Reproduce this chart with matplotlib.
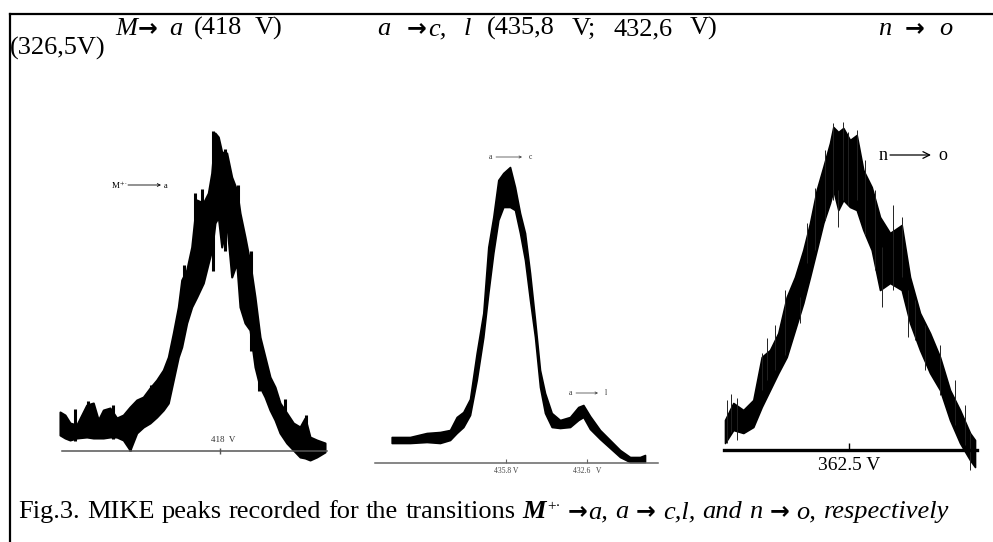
import matplotlib
matplotlib.use("Agg")
import matplotlib.pyplot as plt
from matplotlib.lines import Line2D

W, H = 993, 542
SERIF = ['Liberation Serif', 'DejaVu Serif']
plt.rcParams['font.family'] = SERIF
plt.rcParams['mathtext.fontset'] = 'stix'

# Panel 1: M+. -> a (trace envelope, height above baseline)
p1_x = [5, 10, 15, 21.7, 31.7, 38.3, 43.3, 48.3, 55, 61.7, 68.3, 75, 81.7, 88.3, 95,
        101.7, 108.3, 113.3, 118.3, 123.3, 126.7, 131.7, 136.7, 141.7, 148.3, 153.3,
        156.7, 160, 163.3, 166.7, 171.7, 176.7, 181.7, 185, 190, 195, 200, 205, 210,
        215, 220, 225, 231.7, 238.3, 245, 250, 255, 261.7, 270]
p1_upper = [39, 36, 28, 26, 46, 48, 31, 41, 43, 33, 36, 44, 51, 54, 63, 71, 81, 94, 118,
            144, 171, 181, 204, 251, 248, 258, 278, 318, 314, 299, 298, 274, 261, 238,
            214, 188, 154, 114, 94, 74, 64, 48, 38, 28, 24, 33, 14, 11, 8]
p1_lower = [16, 13, 11, 13, 14, 13, 13, 13, 14, 14, 11, 1, 18, 24, 28, 34, 41, 48, 71,
            94, 104, 128, 144, 154, 168, 188, 201, 228, 234, 204, 228, 174, 188, 144,
            128, 121, 84, 64, 54, 41, 31, 18, 8, 1, -6, -7, -9, -6, -1]
p1_spike_x = [20, 33, 58, 75, 96, 129, 140, 147, 158, 170, 183, 196, 204, 230, 251]
p1_spike_lo = [10, 20, 12, 0, 30, 160, 200, 210, 180, 200, 200, 100, 60, 20, 8]
p1_spike_hi = [42, 50, 46, 40, 66, 186, 258, 262, 320, 302, 266, 200, 118, 52, 36]
p1_span = [7, 272]
p1_ticks = [165]
p1_tick_labels = ['418  V']

# Panel 2: a -> c, l
p2_x = [21.7, 40, 56.7, 70, 80, 86.7, 93.3, 100, 106.7, 113.3, 118.3, 123.3, 128.3,
        133.3, 140, 145, 150, 155, 160, 165, 170, 175, 181.7, 190, 200, 208.3, 213.3,
        220, 230, 240, 250, 260, 270, 275]
p2_upper = [26, 26, 30, 31, 33, 46, 51, 64, 110, 150, 216, 246, 283, 290, 296, 276, 250,
            230, 190, 143, 93, 70, 50, 43, 46, 56, 58, 47, 33, 23, 13, 6, 6, 8]
p2_lower = [20, 20, 21, 20, 23, 30, 36, 48, 83, 126, 170, 210, 243, 256, 256, 253, 230,
            203, 163, 126, 76, 50, 36, 35, 36, 43, 46, 34, 24, 15, 6, 1, 1, 1]
p2_span = [5, 288]
p2_ticks = [136, 217]
p2_tick_labels = ['435.8 V', '432.6   V']

# Panel 3: n -> o
p3_x = [10, 18.3, 28.3, 38.3, 46.7, 55, 63.3, 71.7, 80, 88.3, 95, 101.7, 108.3, 115,
        118.3, 123.3, 128.3, 135, 141.7, 148.3, 156.7, 165, 175, 186.7, 195, 205, 215,
        225, 235, 245, 255, 260]
p3_upper = [30, 47, 40, 50, 93, 100, 117, 153, 173, 200, 227, 260, 283, 307, 323, 318,
            322, 310, 315, 280, 263, 233, 217, 225, 173, 137, 117, 93, 60, 40, 17, 10]
p3_lower = [7, 20, 17, 23, 43, 60, 77, 93, 120, 147, 173, 200, 227, 247, 260, 240, 250,
            243, 240, 220, 200, 160, 167, 160, 127, 100, 77, 60, 30, 7, -10, -17]
p3_spike_x = [11.7, 16, 22, 46.7, 52, 60, 70, 85, 91.7, 100, 110, 117.7, 123.3, 128.3,
              133, 141.7, 150, 160, 166.7, 178, 186.7, 193.3, 200, 210, 225, 240, 250, 255]
p3_spike_lo = [7, 18, 10, 60, 70, 80, 95, 127, 187, 200, 230, 250, 223, 250, 245, 250,
               215, 180, 143, 160, 173, 113, 110, 80, 55, 25, 5, -20]
p3_spike_hi = [50, 56, 52, 97, 112, 125, 160, 153, 227, 262, 300, 327, 260, 328, 318, 320,
               290, 260, 203, 245, 233, 160, 150, 125, 105, 70, 45, 17]
p3_span = [9, 262]
p3_ticks = [134]
p3_tick_labels = ['362.5 V']


def fx(x):
    return x / W


def fy(y):
    return 1 - y / H


def panel(fig, x0, y0, x1, y1, xlim, ylim):
    ax = fig.add_axes([fx(x0), fy(y1), (x1 - x0) / W, (y1 - y0) / H])
    ax.set_xlim(*xlim)
    ax.set_ylim(*ylim)
    ax.patch.set_alpha(0)
    for s in ['top', 'left', 'right']:
        ax.spines[s].set_visible(False)
    ax.set_yticks([])
    ax.spines['bottom'].set_position(('data', 0))
    return ax


def justify(fig, x0, x1, y, words):
    # place words so the line fills x0..x1 (word-processor justified text)
    r = fig.canvas.get_renderer()
    items = []
    for word in words:
        arts, w = [], 0
        for s, kw in word:
            kw = dict(kw)
            rise = kw.pop('rise', 0)
            t = fig.text(0, fy(y - rise), s, va='baseline', ha='left', **kw)
            arts.append((t, w))
            w += t.get_window_extent(r).width + 1
        items.append((arts, w))
    total = sum(w for _, w in items)
    gap = (x1 - x0 - total) / max(len(items) - 1, 1)
    x = x0
    for arts, w in items:
        for t, off in arts:
            t.set_x(fx(x + off))
        x += w + gap


fig = plt.figure(figsize=(W / 100, H / 100), dpi=100)

# frame (top and left rule)
fig.add_artist(Line2D([fx(9.5), fx(9.5)], [0, fy(14)], color='black', lw=1.6))
fig.add_artist(Line2D([fx(9.5), 1], [fy(14), fy(14)], color='black', lw=1.6))

# panel 1
ax1 = panel(fig, 55, 100, 330, 470, (0, 275), (-19, 351))
ax1.fill_between(p1_x, p1_lower, p1_upper, color='black', lw=1.5, edgecolor='black')
ax1.vlines(p1_spike_x, p1_spike_lo, p1_spike_hi, color='black', lw=2.2)
ax1.spines['bottom'].set_bounds(*p1_span)
ax1.spines['bottom'].set_color('#555555')
ax1.spines['bottom'].set_linewidth(1.1)
ax1.set_xticks(p1_ticks)
ax1.set_xticklabels([])
ax1.tick_params(axis='x', direction='inout', length=5, width=1, color='#555555')
for t, lab in zip(p1_ticks, p1_tick_labels):
    ax1.text(t + 3, 7, lab, ha='center', va='bottom', fontsize=6.5, color='#333333')
ax1.text(64, 266, 'M$^{+\\cdot}$', ha='center', va='center', fontsize=6.5)
ax1.annotate('', xy=(106, 266), xytext=(73, 266),
             arrowprops=dict(arrowstyle='->', lw=0.6, color='black',
                             shrinkA=0, shrinkB=0, mutation_scale=5))
ax1.text(111, 265, 'a', ha='center', va='center', fontsize=6)

# panel 2
ax2 = panel(fig, 370, 130, 665, 480, (0, 295), (-17, 333))
ax2.fill_between(p2_x, p2_lower, p2_upper, color='black', lw=1.2, edgecolor='black')
ax2.spines['bottom'].set_bounds(*p2_span)
ax2.spines['bottom'].set_color('#666666')
ax2.spines['bottom'].set_linewidth(1.1)
ax2.set_xticks(p2_ticks)
ax2.set_xticklabels(p2_tick_labels, fontsize=5.5, color='#444444')
ax2.tick_params(axis='x', direction='in', length=3, width=0.8, color='#666666', pad=3)
for x_a, x_b, y_l, a, b in [(120, 152, 306, 'a', 'c'), (200, 228, 70, 'a', 'l')]:
    ax2.text(x_a, y_l, a, ha='center', va='center', fontsize=5.5, color='#333333')
    ax2.annotate('', xy=(x_b, y_l), xytext=(x_a + 6, y_l),
                 arrowprops=dict(arrowstyle='->', lw=0.5, color='#333333',
                                 shrinkA=0, shrinkB=0, mutation_scale=4))
    ax2.text(x_b + 8, y_l, b, ha='center', va='center', fontsize=5.5, color='#333333')

# panel 3
ax3 = panel(fig, 715, 100, 990, 475, (0, 275), (-25, 350))
ax3.fill_between(p3_x, p3_lower, p3_upper, color='black', lw=1.2, edgecolor='black')
ax3.vlines(p3_spike_x, p3_spike_lo, p3_spike_hi, color='#222222', lw=0.7)
ax3.spines['bottom'].set_bounds(*p3_span)
ax3.spines['bottom'].set_color('black')
ax3.spines['bottom'].set_linewidth(2.4)
ax3.set_xticks(p3_ticks)
ax3.set_xticklabels(p3_tick_labels, fontsize=14)
ax3.tick_params(axis='x', direction='in', length=5, width=1, color='black', pad=5)
ax3.text(168, 295, 'n', ha='center', va='center', fontsize=13)
ax3.annotate('', xy=(216, 295), xytext=(175, 295),
             arrowprops=dict(arrowstyle='->', lw=0.9, color='black',
                             shrinkA=0, shrinkB=0, mutation_scale=12))
ax3.text(228, 295, 'o', ha='center', va='center', fontsize=13)

# header texts (justified line, tab-separated groups)
R = dict(fontsize=19)
I = dict(fontsize=19, style='italic')
A = dict(fontsize=17, weight='bold', family=['DejaVu Sans'])
justify(fig, 115, 283, 35, [[('M', I), ('→', A)], [('a', I)], [('(418', R)], [('V)', R)]])
justify(fig, 377, 718, 35, [[('a', I)], [('→', A), ('c,', I)], [('l', I)],
                            [('(435,8', R)], [('V;', R)], [('432,6', R)], [('V)', R)]])
justify(fig, 878, 953, 35, [[('n', I)], [('→', A)], [('o', I)]])
fig.text(fx(10), fy(55), '(326,5V)', va='baseline', ha='left', **R)

# caption
CR = dict(fontsize=19)
CI = dict(fontsize=19, style='italic')
CA = dict(fontsize=17, weight='bold', family=['DejaVu Sans'])
justify(fig, 18, 950, 518, [
    [('Fig.3.', CR)], [('MIKE', CR)], [('peaks', CR)], [('recorded', CR)], [('for', CR)],
    [('the', CR)], [('transitions', CR)],
    [('M', dict(CI, weight='bold')), ('+·', dict(fontsize=11, rise=8))],
    [('→', CA), ('a,', CI)], [('a', CI)], [('→', CA)], [('c,l,', CI)], [('and', CI)],
    [('n', CI)], [('→', CA)], [('o,', CI)], [('respectively', CI)],
])

fig.savefig('out.png', dpi=100, facecolor='white')
